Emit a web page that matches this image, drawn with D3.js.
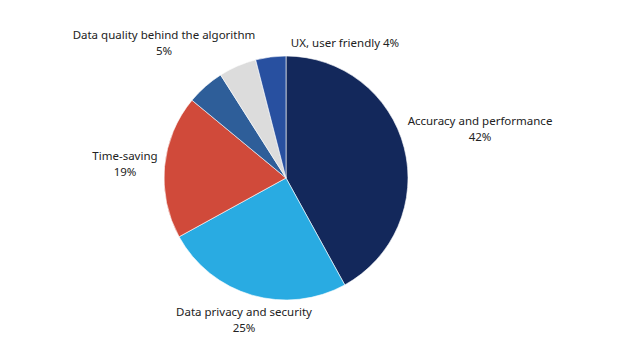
<!DOCTYPE html>
<html>
<head>
<meta charset="utf-8">
<script src="https://cdn.jsdelivr.net/npm/d3@7"></script>
<style>
  body { margin: 0; background: #fff; }
  svg text { font-family: "Noto Sans", sans-serif; fill: #222; }
</style>
</head>
<body>
<div id="chart"></div>
<script>
// --------------------------------------
//  Data
// --------------------------------------

const categories = ["Accuracy and performance", "Data privacy and security", "Time-saving", "Other", "Data quality behind the algorithm", "UX, user friendly"];
const values = [42, 25, 19, 5, 5, 4];
const colors = ["#13285b", "#29abe2", "#d04a3a", "#2e5e99", "#dcdcdc", "#2850a0"];

// label anchors (center x, first-line baseline y) and whether the label is one line
const labelLayout = {
  "Accuracy and performance": { x: 480, y: 125, oneLine: false },
  "Data privacy and security": { x: 244, y: 316, oneLine: false },
  "Time-saving": { x: 125, y: 160, oneLine: false },
  "Data quality behind the algorithm": { x: 164, y: 39, oneLine: false },
  "UX, user friendly": { x: 345, y: 47, oneLine: true }
};

const width = 624, height = 351;
const cx = 286, cy = 178, radius = 122;

const data = categories.map((c, i) => ({ cat: c, value: values[i], color: colors[i] }));

// --------------------------------------
//  Canvas
// --------------------------------------

const svg = d3.select("#chart")
  .append("svg")
    .attr("width", width)
    .attr("height", height);

const g = svg.append("g")
    .attr("transform", `translate(${cx}, ${cy})`);

const pie = d3.pie()
    .sort(null)
    .value(d => d.value);

const arc = d3.arc()
    .innerRadius(0)
    .outerRadius(radius);

g.selectAll("path")
  .data(pie(data))
  .join("path")
    .attr("d", arc)
    .attr("fill", d => d.data.color)
    .attr("stroke", "#fff")
    .attr("stroke-width", 0.6);

// --------------------------------------
//  Labels
// --------------------------------------

data.filter(d => labelLayout[d.cat]).forEach(d => {
  const l = labelLayout[d.cat];
  const t = svg.append("text")
      .attr("text-anchor", "middle")
      .attr("font-size", 11.5);
  if (l.oneLine) {
    t.attr("x", l.x).attr("y", l.y).text(`${d.cat} ${d.value}%`);
  } else {
    t.append("tspan").attr("x", l.x).attr("y", l.y).text(d.cat);
    t.append("tspan").attr("x", l.x).attr("y", l.y + 15.5).text(`${d.value}%`);
  }
});
</script>
</body>
</html>
